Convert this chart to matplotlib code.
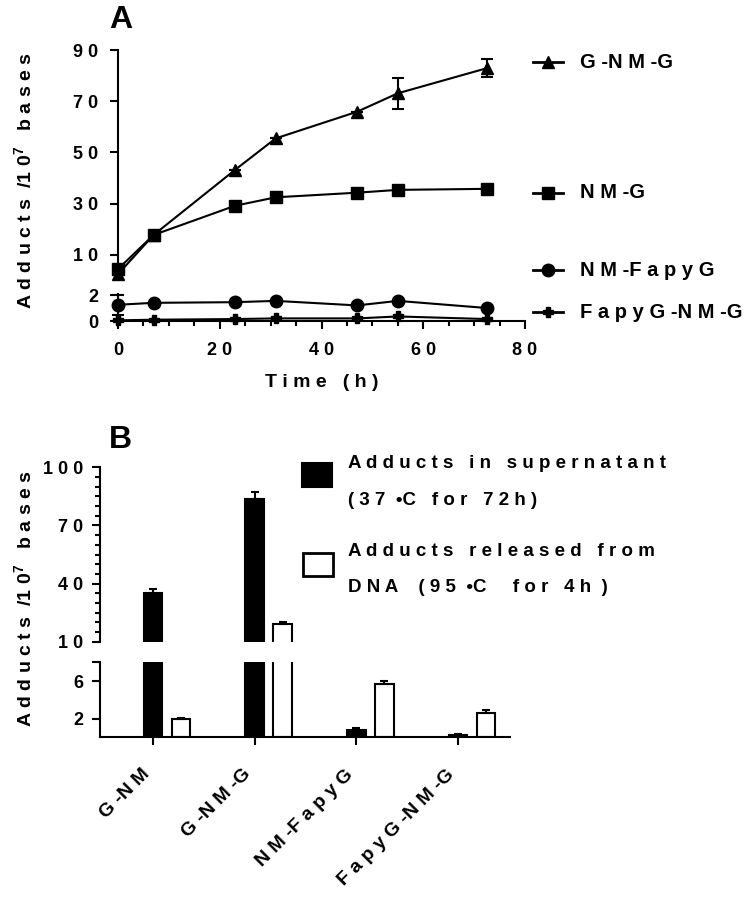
import matplotlib.pyplot as plt
from matplotlib.lines import Line2D
from matplotlib.patches import Rectangle
from matplotlib.ticker import MultipleLocator
from matplotlib.transforms import ScaledTranslation
import numpy as np

plt.rcParams['font.family'] = ['Liberation Sans', 'DejaVu Sans']
plt.rcParams['font.weight'] = 'bold'
plt.rcParams['mathtext.fontset'] = 'custom'
plt.rcParams['mathtext.bf'] = 'Liberation Sans:bold'
plt.rcParams['mathtext.rm'] = 'Liberation Sans:bold'

# panel A: adducts over time
hours = [0, 7, 23, 31, 47, 55, 72.5]
g_nm_g = [2.5, 17.8, 43.2, 55.5, 65.9, 73.1, 82.9]
g_nm_g_err = [0, 0, 0, 0, 0, 6, 3.5]
nm_g = [4.5, 17.8, 29.2, 32.5, 34.3, 35.4, 35.8]
nm_fapyg = [1.25, 1.4, 1.45, 1.55, 1.2, 1.55, 1.0]
nm_fapyg_err = [0.75, 0, 0, 0, 0, 0, 0]
fapyg_nm_g = [0.05, 0.1, 0.15, 0.2, 0.2, 0.35, 0.15]
series_a = ['G-NM-G', 'NM-G', 'NM-FapyG', 'FapyG-NM-G']

# panel B: supernatant vs released from DNA
adducts_b = ['G-NM', 'G-NM-G', 'NM-FapyG', 'FapyG-NM-G']
supernatant = [35.3, 83.7, 0.8, 0.22]
supernatant_err = [1.9, 3.6, 0.17, 0.1]
released = [1.9, 19.3, 5.7, 2.6]
released_err = [0.15, 0.9, 0.3, 0.28]


def sp(s):
    return ' '.join(s).replace(' - ', ' -')


W, H = 750, 905


def fx(px):
    return px / W


def fy(py):
    return 1 - py / H


LW = 1.5
FS = 13
TS = 14

fig = plt.figure(figsize=(7.5, 9.05), dpi=100)


def style(ax, ypad=6):
    for s in ['top', 'right']:
        ax.spines[s].set_visible(False)
    for s in ['left', 'bottom']:
        ax.spines[s].set_linewidth(LW)
    ax.tick_params(which='major', width=LW, length=6, labelsize=FS)
    ax.tick_params(which='minor', width=LW, length=3.5)
    ax.tick_params(axis='y', pad=ypad)


# ---- panel A
axt = fig.add_axes([fx(118), fy(278), fx(525) - fx(118), (278 - 50) / H])
axb = fig.add_axes([fx(118), fy(321), fx(525) - fx(118), (321 - 294) / H])
style(axt, 8)
style(axb, 8)
axt.spines['bottom'].set_visible(False)
axt.set_xticks([])
axt.set_xlim(0, 80)
axb.set_xlim(0, 80)
axt.set_ylim(1, 90)
axb.set_ylim(0, 2.08)

kw = dict(color='black', lw=LW, capsize=4, capthick=LW, elinewidth=LW, clip_on=False)
axt.errorbar(hours, g_nm_g, yerr=g_nm_g_err, marker='^', ms=9, **kw)
axt.errorbar(hours, nm_g, marker='s', ms=9, **kw)
axb.errorbar(hours, nm_fapyg, yerr=nm_fapyg_err, marker='o', ms=9, **kw)
axb.errorbar(hours, fapyg_nm_g, marker='P', ms=7, **kw)

axt.set_yticks([10, 30, 50, 70, 90])
axt.set_yticklabels([sp(str(v)) for v in [10, 30, 50, 70, 90]])
axb.set_yticks([0, 2])
axb.set_yticklabels(['0', '2'])
axb.set_xticks([0, 20, 40, 60, 80])
axb.set_xticklabels([sp(str(v)) for v in [0, 20, 40, 60, 80]])
axb.xaxis.set_minor_locator(MultipleLocator(5))
axb.tick_params(axis='x', pad=9)
axb.set_xlabel(sp('Time (h)'), fontsize=TS, fontweight='bold', labelpad=11)

ylab = sp('Adducts') + '  /' + sp('10') + r'$^{\mathbf{7}}$' + '   ' + sp('bases')
fig.text(fx(25), fy(181), ylab, rotation=90, ha='center', va='center', fontsize=TS)
fig.text(fx(109), fy(20), 'A', fontsize=23, ha='left', va='center')

# legend of panel A, beside the curves
marks = ['^', 's', 'o', 'P']
sizes = [9, 9, 9, 7]
leg_y = [62, 193, 270, 312]
for name, m, ms, y in zip(series_a, marks, sizes, leg_y):
    fig.add_artist(Line2D([fx(533), fx(563)], [fy(y), fy(y)], color='black', lw=LW + 0.5,
                          transform=fig.transFigure))
    fig.add_artist(Line2D([fx(548)], [fy(y)], color='black', marker=m, ms=ms,
                          transform=fig.transFigure))
    fig.text(fx(580), fy(y), sp(name), fontsize=14.5, ha='left', va='center')

# ---- panel B
bt = fig.add_axes([fx(100), fy(641.7), fx(510) - fx(100), (641.7 - 467.3) / H])
bb = fig.add_axes([fx(100), fy(737.3), fx(510) - fx(100), (737.3 - 662.3) / H])
style(bt)
style(bb)
bt.spines['bottom'].set_visible(False)
bt.set_xticks([])
x = np.arange(len(adducts_b))
off = 0.275
bw = 0.18
for ax in (bt, bb):
    ax.bar(x, supernatant, bw, color='black', edgecolor='black', lw=LW)
    ax.bar(x + off, released, bw, color='white', edgecolor='black', lw=LW)
    ax.errorbar(x, supernatant, yerr=[np.zeros(4), supernatant_err], fmt='none',
                ecolor='black', capsize=3, capthick=LW, elinewidth=LW)
    ax.errorbar(x + off, released, yerr=[np.zeros(4), released_err], fmt='none',
                ecolor='black', capsize=3, capthick=LW, elinewidth=LW)
    ax.set_xlim(-0.52, 3.51)
bt.set_ylim(10, 100)
bb.set_ylim(0, 8)
bt.set_yticks([10, 40, 70, 100])
bt.set_yticklabels([sp(str(v)) for v in [10, 40, 70, 100]])
bt.yaxis.set_minor_locator(MultipleLocator(5))
bb.set_yticks([2, 6, 8])
bb.set_yticklabels(['2', '6', ''])
bb.set_xticks(x)
bb.set_xticklabels([sp(a) for a in adducts_b], rotation=45, ha='right', va='center',
                   rotation_mode='anchor', fontsize=TS)
bb.tick_params(axis='x', pad=16)
shift = ScaledTranslation(-6 / 100, -4 / 100, fig.dpi_scale_trans)
for lab in bb.get_xticklabels():
    lab.set_transform(lab.get_transform() + shift)

fig.text(fx(25), fy(599), ylab, rotation=90, ha='center', va='center', fontsize=TS)
fig.text(fx(109), fy(440), 'B', fontsize=23, ha='left', va='center')

fig.add_artist(Rectangle((fx(302), fy(487)), fx(332) - fx(302), (487 - 463) / H,
                         facecolor='black', edgecolor='black', lw=LW, transform=fig.transFigure))
fig.add_artist(Rectangle((fx(303), fy(576)), fx(333) - fx(303), (576 - 553) / H,
                         facecolor='white', edgecolor='black', lw=LW + 0.5, transform=fig.transFigure))
LS = 13.5
fig.text(fx(348), fy(463), sp('Adducts in supernatant'), fontsize=LS, va='center')
fig.text(fx(348), fy(500), '( ' + sp('37') + '  •' + sp('C for 72h') + ' )', fontsize=LS, va='center')
fig.text(fx(348), fy(551), sp('Adducts released from'), fontsize=LS, va='center')
fig.text(fx(348), fy(587), sp('DNA') + '    ( ' + sp('95') + '  •' + sp('C  for 4h') + '  )',
         fontsize=LS, va='center')

fig.savefig('out.png', dpi=100)
